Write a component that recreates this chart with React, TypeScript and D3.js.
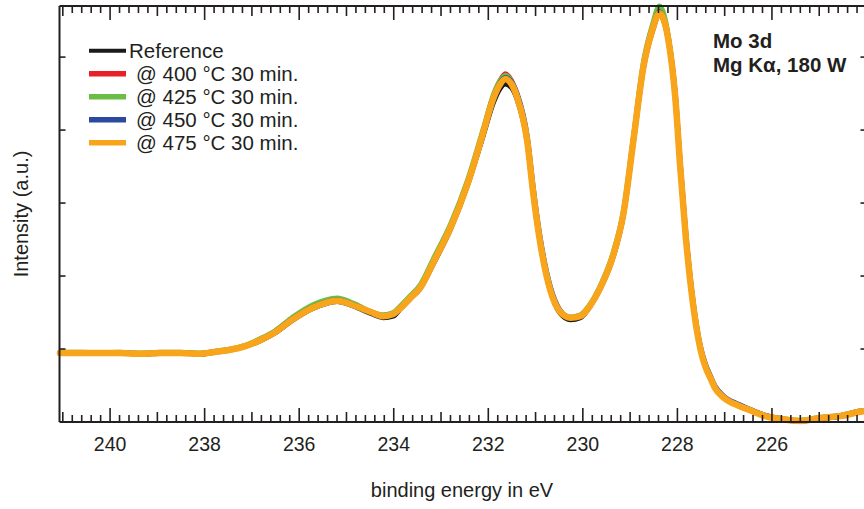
import React from "react";
import * as d3 from "d3";

const energy = [241.06, 240.63, 240.21, 239.79, 239.37, 238.94, 238.52, 238.10, 237.78, 237.46, 237.14, 236.83, 236.51, 236.13, 235.70, 235.45, 235.20, 234.86, 234.50, 234.22, 234.01, 233.86, 233.65, 233.44, 233.16, 232.80, 232.44, 232.11, 231.89, 231.75, 231.64, 231.51, 231.39, 231.17, 231.05, 230.90, 230.69, 230.48, 230.26, 230.05, 229.84, 229.63, 229.35, 229.14, 228.93, 228.72, 228.53, 228.38, 228.19, 228.04, 227.94, 227.83, 227.68, 227.51, 227.41, 227.30, 227.20, 227.03, 226.90, 226.73, 226.46, 226.14, 225.82, 225.40, 224.97, 224.55, 224.13, 224.00];

const reference = [0.94, 0.945, 0.94, 0.945, 0.93, 0.94, 0.945, 0.93, 0.955, 0.985, 1.035, 1.11, 1.22, 1.40, 1.56, 1.62, 1.65, 1.59, 1.49, 1.43, 1.45, 1.55, 1.69, 1.83, 2.17, 2.64, 3.24, 3.92, 4.38, 4.57, 4.63, 4.58, 4.42, 3.80, 3.12, 2.44, 1.80, 1.49, 1.40, 1.43, 1.59, 1.83, 2.28, 2.84, 3.84, 4.84, 5.35, 5.58, 5.22, 4.40, 3.49, 2.60, 1.68, 1.00, 0.77, 0.61, 0.46, 0.34, 0.28, 0.23, 0.16, 0.08, 0.04, 0.015, 0.05, 0.08, 0.14, 0.15];
const t400 = [0.95, 0.95, 0.945, 0.95, 0.94, 0.95, 0.95, 0.94, 0.965, 0.99, 1.045, 1.12, 1.23, 1.41, 1.58, 1.64, 1.66, 1.61, 1.51, 1.46, 1.48, 1.57, 1.71, 1.85, 2.20, 2.67, 3.28, 3.98, 4.47, 4.68, 4.77, 4.68, 4.48, 3.84, 3.15, 2.46, 1.82, 1.52, 1.43, 1.46, 1.61, 1.85, 2.31, 2.87, 3.88, 4.88, 5.39, 5.63, 5.25, 4.42, 3.50, 2.60, 1.68, 0.99, 0.77, 0.61, 0.47, 0.35, 0.29, 0.24, 0.17, 0.09, 0.05, 0.02, 0.06, 0.09, 0.15, 0.16];
const t425 = [0.955, 0.955, 0.95, 0.955, 0.945, 0.955, 0.955, 0.945, 0.97, 1.00, 1.05, 1.14, 1.25, 1.44, 1.61, 1.67, 1.70, 1.63, 1.52, 1.47, 1.50, 1.59, 1.73, 1.88, 2.24, 2.71, 3.31, 4.01, 4.49, 4.68, 4.75, 4.67, 4.47, 3.83, 3.14, 2.45, 1.81, 1.52, 1.44, 1.47, 1.62, 1.87, 2.34, 2.90, 3.91, 4.93, 5.44, 5.70, 5.28, 4.43, 3.50, 2.59, 1.67, 0.99, 0.77, 0.61, 0.47, 0.35, 0.29, 0.24, 0.17, 0.09, 0.05, 0.025, 0.065, 0.09, 0.15, 0.16];
const t450 = [0.94, 0.95, 0.94, 0.95, 0.935, 0.945, 0.95, 0.935, 0.96, 0.99, 1.04, 1.12, 1.24, 1.42, 1.58, 1.64, 1.67, 1.61, 1.51, 1.45, 1.47, 1.56, 1.70, 1.84, 2.19, 2.66, 3.27, 3.97, 4.45, 4.65, 4.72, 4.66, 4.50, 3.89, 3.22, 2.52, 1.86, 1.53, 1.43, 1.45, 1.60, 1.84, 2.30, 2.86, 3.86, 4.86, 5.38, 5.62, 5.26, 4.47, 3.56, 2.66, 1.72, 1.03, 0.80, 0.63, 0.49, 0.36, 0.30, 0.25, 0.17, 0.09, 0.04, 0.01, 0.05, 0.08, 0.14, 0.15];
const t475 = [0.945, 0.945, 0.945, 0.945, 0.935, 0.945, 0.945, 0.935, 0.96, 0.99, 1.04, 1.12, 1.23, 1.41, 1.57, 1.63, 1.66, 1.60, 1.51, 1.45, 1.48, 1.56, 1.70, 1.84, 2.19, 2.66, 3.26, 3.96, 4.44, 4.63, 4.70, 4.63, 4.45, 3.82, 3.14, 2.45, 1.81, 1.51, 1.43, 1.45, 1.60, 1.84, 2.30, 2.86, 3.86, 4.86, 5.37, 5.60, 5.23, 4.41, 3.49, 2.59, 1.67, 0.99, 0.76, 0.60, 0.46, 0.34, 0.28, 0.23, 0.16, 0.08, 0.04, 0.015, 0.055, 0.08, 0.14, 0.15];

const seriesNames = ["Reference", "@ 400 °C 30 min.", "@ 425 °C 30 min.", "@ 450 °C 30 min.", "@ 475 °C 30 min."];
const seriesValues = [reference, t400, t425, t450, t475];
const seriesColors = ["#1a1a1a", "#e8202a", "#6cbd45", "#2b4a9f", "#f9a51b"];

const xTickLabels = [240, 238, 236, 234, 232, 230, 228, 226];
const yTickValues = [1, 2, 3, 4, 5];
const annotation = ["Mo 3d", "Mg K\u03b1, 180 W"];

const W = 864;
const H = 509;
const left = 59.5;
const right = 866.5;
const top = 6;
const bottom = 422;
const axisColor = "#231f20";
const font = "'Liberation Sans', Arial, sans-serif";

export default function App() {
  const x = d3.scaleLinear().domain([241.07, 224.0]).range([left, right]);
  const y = d3.scaleLinear().domain([0, 5.7]).range([bottom, top]);

  const line = d3
    .line<number>()
    .x((_, i) => x(energy[i]))
    .y((d) => y(d))
    .curve(d3.curveMonotoneX);

  const ticks = d3.range(0, 86).map((i) => Math.round((241 - i * 0.2) * 10) / 10);
  const tickLen = (v: number) => {
    const r = Math.round(v);
    if (Math.abs(v - r) < 0.01) return r % 2 === 0 ? 14 : 10;
    return 7;
  };

  return (
    <svg width={W} height={H} style={{ position: "absolute", left: 0, top: 0, background: "#fff" }}>
      <rect x={0} y={0} width={W} height={H} fill="#fff" />
      {seriesValues.map((vals, k) => (
        <path
          key={k}
          d={line(vals) || ""}
          fill="none"
          stroke={seriesColors[k]}
          strokeWidth={k === 4 ? 6.5 : 5}
          strokeLinejoin="round"
          strokeLinecap="round"
        />
      ))}
      <g stroke={axisColor} strokeWidth={2} fill="none">
        <line x1={left} x2={right} y1={top} y2={top} />
        <line x1={left} x2={right} y1={bottom} y2={bottom} />
        <line x1={left} x2={left} y1={top} y2={bottom} />
        <line x1={right} x2={right} y1={top} y2={bottom} />
      </g>
      <g stroke={axisColor} strokeWidth={1.6}>
        {ticks.map((v) => (
          <g key={v}>
            <line x1={x(v)} x2={x(v)} y1={bottom} y2={bottom - tickLen(v)} />
            <line x1={x(v)} x2={x(v)} y1={top} y2={top + tickLen(v)} />
          </g>
        ))}
      </g>
      <g stroke={axisColor} strokeWidth={1.6}>
        {yTickValues.map((v) => (
          <g key={v}>
            <line x1={left} x2={left + 6} y1={y(v)} y2={y(v)} />
            <line x1={right} x2={right - 6} y1={y(v)} y2={y(v)} />
          </g>
        ))}
      </g>
      <g fontFamily={font} fontSize={19.5} fill="#231f20" textAnchor="middle">
        {xTickLabels.map((v) => (
          <text key={v} x={x(v)} y={451}>
            {v}
          </text>
        ))}
      </g>
      <text x={462} y={497} fontFamily={font} fontSize={20} fill="#231f20" textAnchor="middle">
        binding energy in eV
      </text>
      <text
        transform={`translate(28, 214) rotate(-90)`}
        fontFamily={font}
        fontSize={20}
        fill="#231f20"
        textAnchor="middle"
      >
        Intensity (a.u.)
      </text>
      <g fontFamily={font} fontSize={20.5} fill="#231f20">
        {seriesNames.map((name, k) => (
          <g key={name}>
            <line
              x1={89}
              x2={126}
              y1={50.7 + k * 23}
              y2={50.7 + k * 23}
              stroke={seriesColors[k]}
              strokeWidth={k === 0 ? 4 : 5.5}
            />
            <text x={k === 0 ? 129 : 136} y={57.5 + k * 23}>
              {name}
            </text>
          </g>
        ))}
      </g>
      <g fontFamily={font} fontSize={20.5} fontWeight="bold" fill="#231f20">
        {annotation.map((t, i) => (
          <text key={t} x={713} y={48 + i * 24}>
            {t}
          </text>
        ))}
      </g>
    </svg>
  );
}
